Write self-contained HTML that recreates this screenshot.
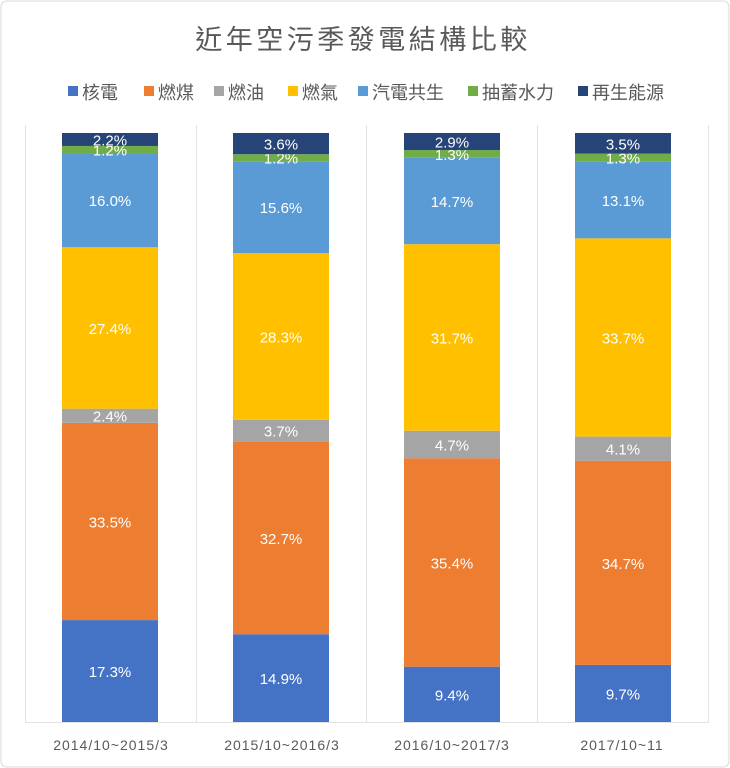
<!DOCTYPE html>
<html><head><meta charset="utf-8"><style>
body{margin:0;background:#fff;}
svg{display:block;font-family:"Liberation Sans","Noto Sans CJK TC",sans-serif;}
</style></head><body>
<svg id="s" width="730" height="768" viewBox="0 0 730 768">
<rect x="1" y="1" width="728" height="766" rx="6" fill="#fff" stroke="#d9d9d9"/>
<text x="363" y="49" text-anchor="middle" font-size="27" fill="#595959" letter-spacing="3.5">近年空污季發電結構比較</text>
<g id="leg" font-size="18" fill="#595959"></g>
<g stroke="#e3e3e3" stroke-width="1">
<line x1="25.5" y1="125" x2="25.5" y2="722"/><line x1="196.5" y1="125" x2="196.5" y2="722"/>
<line x1="366.5" y1="125" x2="366.5" y2="722"/><line x1="537.5" y1="125" x2="537.5" y2="722"/>
<line x1="708.5" y1="125" x2="708.5" y2="722"/><line x1="25" y1="722.5" x2="709" y2="722.5"/>
</g>
<g id="bars"></g>
<g font-size="14" fill="#595959" text-anchor="middle" letter-spacing="1">
<text x="111" y="750">2014/10~2015/3</text><text x="282" y="750">2015/10~2016/3</text>
<text x="452" y="750">2016/10~2017/3</text><text x="622" y="750">2017/10~11</text>
</g>
</svg>
<script>
var cols=["#4472c4","#ed7d31","#a5a5a5","#ffc000","#5b9bd5","#70ad47","#264478"];
var names=["核電","燃煤","燃油","燃氣","汽電共生","抽蓄水力","再生能源"];
var lx=[68,144,214,288,358,468,578];
var ns="http://www.w3.org/2000/svg";
function el(t,a,p,txt){var e=document.createElementNS(ns,t);for(var k in a)e.setAttribute(k,a[k]);if(txt)e.textContent=txt;p.appendChild(e);return e;}
var leg=document.getElementById("leg");
for(var i=0;i<7;i++){el("rect",{x:lx[i],y:86,width:10,height:10,fill:cols[i]},leg);el("text",{x:lx[i]+14,y:99},leg,names[i]);}
var data=[[17.3,33.5,2.4,27.4,16.0,1.2,2.2],[14.9,32.7,3.7,28.3,15.6,1.2,3.6],[9.4,35.4,4.7,31.7,14.7,1.3,2.9],[9.7,34.7,4.1,33.7,13.1,1.3,3.5]];
var bx=[62,233,404,575],bw=96,base=722,H=589;
var g=document.getElementById("bars");
data.forEach(function(d,j){var sum=d.reduce(function(a,b){return a+b});var y=base;
d.forEach(function(v,i){var h=v/sum*H;y-=h;el("rect",{x:bx[j],y:y,width:bw,height:h,fill:cols[i]},g);
el("text",{x:bx[j]+bw/2,y:y+h/2+6,"text-anchor":"middle","font-size":"15",fill:"#fff"},g,v.toFixed(1)+"%");});});
</script>
</body></html>
